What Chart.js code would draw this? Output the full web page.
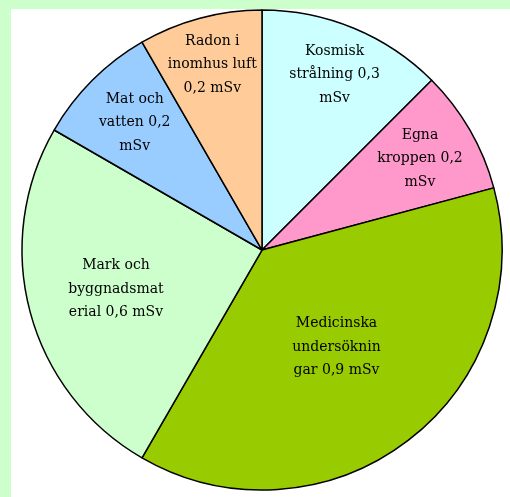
<!DOCTYPE html>
<html>
<head>
<meta charset="utf-8">
<script src="https://cdn.jsdelivr.net/npm/chart.js@4/dist/chart.umd.min.js"></script>
<style>
  html, body { margin: 0; padding: 0; background: #ccffcc; }
  #wrap { position: relative; width: 510px; height: 497px; overflow: hidden; }
  #paper { position: absolute; left: 11px; top: 9px; width: 499px; height: 488px; background: #ffffff; }
  #chart { position: absolute; left: 0; top: 0; }
</style>
</head>
<body>
<div id="wrap">
  <div id="paper"></div>
  <canvas id="chart" width="510" height="497"></canvas>
</div>
<script>
const categories = ["Kosmisk strålning", "Egna kroppen", "Medicinska undersökningar",
                    "Mark och byggnadsmaterial", "Mat och vatten", "Radon i inomhus luft"];
const doses = [0.3, 0.2, 0.9, 0.6, 0.2, 0.2];
const unit = "mSv";
const sliceColors = ["#ccffff", "#ff99cc", "#99cc00", "#ccffcc", "#99ccff", "#ffcc99"];

// label placement: fraction of radius along the slice's middle angle, and wrap width
const labelRadius = [0.79, 0.76, 0.51, 0.63, 0.75, 0.80];
const wrapWidth = [100, 90, 94, 100, 96, 100];

const labelFont = "14px 'DejaVu Serif'";
const lineHeight = 23.5;

function labelText(i) {
    return categories[i] + " " + String(doses[i]).replace(".", ",") + " " + unit;
}

// greedy word wrap; words too long for a line get split by character
function wrapText(ctx, text, maxW) {
    const lines = [];
    let line = "";
    for (const word of text.split(" ")) {
        let w = word;
        let test = line ? line + " " + w : w;
        if (ctx.measureText(test).width <= maxW) { line = test; continue; }
        if (line) { lines.push(line); line = ""; }
        while (ctx.measureText(w).width > maxW) {
            let k = w.length;
            while (k > 1 && ctx.measureText(w.slice(0, k)).width > maxW) k--;
            lines.push(w.slice(0, k));
            w = w.slice(k);
        }
        line = w;
    }
    if (line) lines.push(line);
    return lines;
}

const sliceLabels = {
    id: "sliceLabels",
    afterDatasetsDraw(chart) {
        const ctx = chart.ctx;
        const arcs = chart.getDatasetMeta(0).data;
        ctx.save();
        ctx.font = labelFont;
        ctx.fillStyle = "#000000";
        ctx.textAlign = "center";
        ctx.textBaseline = "middle";
        arcs.forEach((arc, i) => {
            const p = arc.getProps(["x", "y", "startAngle", "endAngle", "outerRadius"], true);
            const mid = (p.startAngle + p.endAngle) / 2;
            const r = p.outerRadius * labelRadius[i];
            const cx = p.x + Math.cos(mid) * r;
            const cy = p.y + Math.sin(mid) * r;
            const lines = wrapText(ctx, labelText(i), wrapWidth[i]);
            const top = cy - (lines.length - 1) * lineHeight / 2;
            lines.forEach((ln, j) => ctx.fillText(ln, cx, top + j * lineHeight));
        });
        ctx.restore();
    }
};

new Chart(document.getElementById("chart"), {
    type: "pie",
    data: {
        labels: categories,
        datasets: [{
            data: doses,
            backgroundColor: sliceColors,
            borderColor: "#000000",
            borderWidth: 1.5,
            borderAlign: "center"
        }]
    },
    options: {
        responsive: false,
        animation: false,
        events: [],
        radius: 240,
        layout: { padding: { left: 14, right: 0, top: 3, bottom: 0 } },
        plugins: {
            legend: { display: false },
            tooltip: { enabled: false }
        }
    },
    plugins: [sliceLabels]
});
</script>
</body>
</html>
